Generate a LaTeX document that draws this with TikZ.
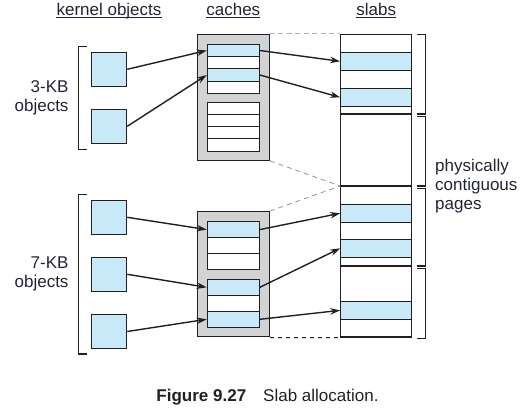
\documentclass[tikz,border=0pt]{standalone}
\usepackage{fontspec}
\setmainfont{Liberation Sans}
\usetikzlibrary{arrows.meta,positioning}
\definecolor{slabblue}{RGB}{200,233,247}
\definecolor{cachegray}{RGB}{209,211,212}
\definecolor{ink}{RGB}{35,31,32}
\definecolor{labelink}{RGB}{33,36,56}
\tikzset{
	kobj/.style={draw=ink,fill=slabblue,line width=1.1pt,minimum width=35pt,minimum height=34pt,inner sep=0pt},
	cachebox/.style={draw=ink,fill=cachegray,line width=1.1pt,minimum width=72pt,inner sep=0pt},
	crow/.style={draw=ink,fill=white,line width=1.1pt,minimum width=52pt,inner sep=0pt},
	srow/.style={draw=ink,fill=slabblue,line width=1.1pt,minimum width=71pt,minimum height=18pt,inner sep=0pt},
	ptr/.style={->,line width=1.4pt,draw=ink},
	head/.style={inner sep=0pt,anchor=base,text=labelink},
	lbl/.style={align=right,inner sep=0pt,text=labelink},
	brk/.style={line width=1.1pt,draw=ink},
	guide/.style={draw=gray!85,line width=0.8pt,dash pattern=on 5pt off 4pt}
}
\begin{document}
\begin{tikzpicture}[x=1pt,y=-1pt,line join=miter,font=\fontsize{17}{19}\selectfont,>={Stealth[length=10pt,width=6.5pt]}]
			\useasboundingbox (0,0) rectangle (523,409);
			\def\cx{233.3} \def\sx{376.2} \def\kx{109.2}
			% headings
			\foreach \n/\x/\t in {hk/109/kernel objects,hc/\cx/caches,hs/\sx/slabs}{
				\node[head] (\n) at (\x,15.5) {\t};
				\draw[line width=0.8pt,labelink] ([yshift=-1.6pt]\n.base west)--([yshift=-1.6pt]\n.base east);
			}
			% caches
			\node[cachebox,minimum height=126pt] (c1) at (\cx,97.3) {};
			\node[cachebox,minimum height=125.3pt] (c2) at (\cx,274.3) {};
			\foreach \i/\y/\f in {1/50.5/slabblue,2/62.75/white,3/75/slabblue,4/87.25/white}{
				\node[crow,fill=\f,minimum height=12.25pt] (u\i) at (\cx,\y) {};
			}
			\foreach \i/\y in {1/108.4,2/120.6,3/132.8,4/145}{
				\node[crow,minimum height=12.2pt] (v\i) at (\cx,\y) {};
			}
			\foreach \i/\y/\f in {1/229.6/slabblue,2/245.5/white,3/261.4/white}{
				\node[crow,fill=\f,minimum height=15.9pt] (w\i) at (\cx,\y) {};
			}
			\foreach \i/\y/\f in {1/287.3/slabblue,2/303.3/white,3/319.3/slabblue}{
				\node[crow,fill=\f,minimum height=16pt] (z\i) at (\cx,\y) {};
			}
			% slabs
			\node[draw=ink,line width=1.1pt,minimum width=71pt,minimum height=302.7pt,inner sep=0pt] (col) at (\sx,185.65) {};
			\foreach \y in {114,186,266}{
				\draw[brk] (col.west |- 0,\y)--(col.east |- 0,\y);
			}
			\foreach \i/\y in {1/61.3,2/97.3,3/213.3,4/248.3,5/310.35}{
				\node[srow] (s\i) at (\sx,\y) {};
			}
			% kernel objects
			\foreach \i/\y in {1/69.3,2/126.3}{
				\node[kobj] (ka\i) at (\kx,\y) {};
			}
			\foreach \i/\y in {1/217.3,2/274.3,3/331.5}{
				\node[kobj] (kb\i) at (\kx,\y) {};
			}
			\foreach \a/\b in {ka1/u1,ka2/u3,u1/s1,u3/s2,kb1/w1,kb2/z1,kb3/z3,w1/s3,z1/s4,z3/s5}{
				\draw[ptr] (\a.east)--(\b.west);
			}
			% dashed guides
			\coordinate (mid) at (col.west |- 0,186);
			\draw[draw=gray!60,line width=1.3pt,dash pattern=on 5pt off 3.5pt] (c1.north east)--(col.north west);
			\draw[guide] (c1.south east)--(mid) (c2.north east)--(mid);
			\draw[draw=ink,line width=1pt,dash pattern=on 4pt off 4pt] (c2.south east)--(col.south west);
			% brackets
			\foreach \a/\b in {46.7/149.3,194.3/354}{
				\draw[brk] (87,\a)--(78.7,\a)--(78.7,\b)--(87,\b);
			}
			\foreach \a/\b in {34.3/114,116.7/186,188.3/266,268.3/338.3}{
				\draw[brk] (416.7,\a)--(425.7,\a)--(425.7,\b)--(416.7,\b);
			}
			\coordinate (b1) at (78.7,98);
			\coordinate (b2) at (78.7,274.2);
			\coordinate (b3) at (425.7,186);
			\node[lbl,left=10pt of b1] (l3) {3-KB\\objects};
			\node[lbl,left=10pt of b2] (l7) {7-KB\\objects};
			\node[lbl,align=left,right=9.3pt of b3] (lp) {physically\\contiguous\\pages};
			% caption
			\node[anchor=base,inner sep=0pt,text=ink] (cap) at (267.5,401) {\textbf{Figure 9.27}\quad Slab allocation.};
		\end{tikzpicture}
\end{document}
